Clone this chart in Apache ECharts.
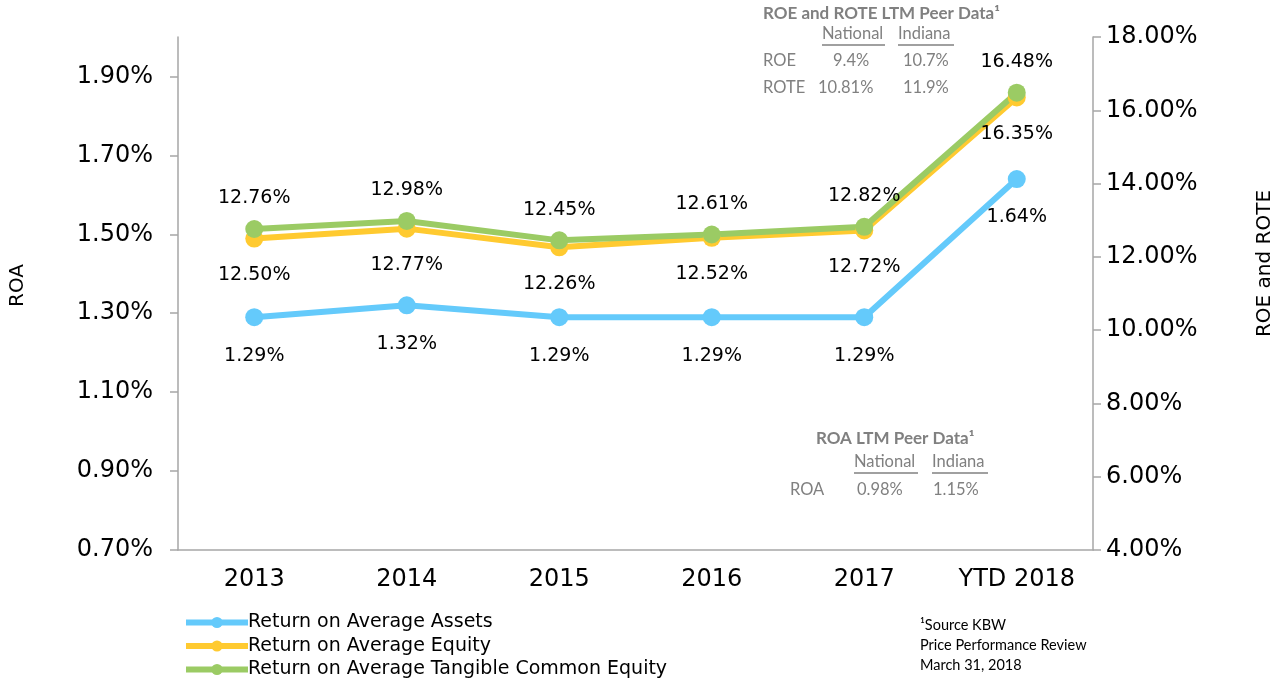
<!DOCTYPE html>
<html>
<head>
<meta charset="utf-8">
<title>ROA, ROE and ROTE</title>
<script src="https://cdn.jsdelivr.net/npm/echarts@6/dist/echarts.min.js"></script>
<style>
  html, body { margin: 0; padding: 0; background: #fff; }
  #main { width: 1284px; height: 680px; }
</style>
</head>
<body>
<div id="main"></div>
<script>
  // chart values
  var years = ['2013', '2014', '2015', '2016', '2017', 'YTD 2018'];
  var roa = [1.29, 1.32, 1.29, 1.29, 1.29, 1.64];
  var roe = [12.50, 12.77, 12.26, 12.52, 12.72, 16.35];
  var rote = [12.76, 12.98, 12.45, 12.61, 12.82, 16.48];
  var roaTicks = [0.7, 0.9, 1.1, 1.3, 1.5, 1.7, 1.9];

  // peer tables
  var peerCols = ['National', 'Indiana'];
  var peerRoe = ['9.4%', '10.7%'];
  var peerRote = ['10.81%', '11.9%'];
  var peerRoa = ['0.98%', '1.15%'];
  var sourceNote = ['\u00b9Source KBW', 'Price Performance Review', 'March 31, 2018'];

  var blue = '#64CAFB', yellow = '#FFCA30', green = '#9BCB64';
  var axisGray = '#A6A6A6', tableGray = '#808080';
  var tableFont = 'Lato, "Open Sans", sans-serif';

  var dom = document.getElementById('main');
  var myChart = echarts.init(dom);

  function pct(v) { return v.toFixed(2) + '%'; }

  function txt(x, y, s, opt) {
    opt = opt || {};
    return {
      type: 'text', left: x, top: y,
      style: {
        text: s, fill: opt.color || tableGray,
        font: (opt.bold ? 'bold ' : '') + (opt.size || 16.5) + 'px ' + (opt.family || tableFont)
      }
    };
  }
  function uline(x1, x2, y) {
    return { type: 'line', shape: { x1: x1, y1: y, x2: x2, y2: y },
      style: { stroke: tableGray, lineWidth: 1.5 } };
  }

  var graphics = [
    txt(763, 5, 'ROE and ROTE LTM Peer Data\u00b9', { bold: true, size: 17 }),
    txt(822, 25, peerCols[0]), uline(822, 885, 45),
    txt(898, 25, peerCols[1]), uline(898, 954, 45),
    txt(763, 52, 'ROE'), txt(833, 52, peerRoe[0]), txt(903, 52, peerRoe[1]),
    txt(763, 79, 'ROTE'), txt(818, 79, peerRote[0]), txt(903, 79, peerRote[1]),

    txt(816, 430, 'ROA LTM Peer Data\u00b9', { bold: true, size: 17 }),
    txt(854, 453, peerCols[0]), uline(854, 918, 473),
    txt(932, 453, peerCols[1]), uline(932, 988, 473),
    txt(790, 481, 'ROA'), txt(857, 481, peerRoa[0]), txt(933, 481, peerRoa[1])
  ];
  sourceNote.forEach(function (s, i) {
    graphics.push(txt(920, 618 + i * 20, s, { color: '#000', size: 14.5 }));
  });

  function lineSeries(name, data, color, axisIdx, labelPos, dist) {
    return {
      name: name,
      type: 'line',
      yAxisIndex: axisIdx,
      data: data,
      symbol: 'circle',
      symbolSize: 18,
      lineStyle: { width: 6, color: color },
      itemStyle: { color: color },
      label: {
        show: true, position: labelPos, distance: dist,
        color: '#000', fontSize: 19, fontFamily: 'DejaVu Sans',
        formatter: function (p) { return pct(p.value); }
      },
      animation: false
    };
  }

  var option = {
    textStyle: { fontFamily: 'DejaVu Sans' },
    grid: { left: 176, right: 191, top: 37, bottom: 130 },
    legend: {
      orient: 'vertical', left: 178, top: 607, height: 100, itemGap: 2.5,
      itemWidth: 62, itemHeight: 14,
      lineStyle: { width: 6 },
      textStyle: { fontSize: 19, lineHeight: 21, color: '#000', fontFamily: 'DejaVu Sans', padding: [0, 0, 0, -5] },
      data: ['Return on Average Assets', 'Return on Average Equity', 'Return on Average Tangible Common Equity']
    },
    xAxis: {
      type: 'category',
      data: years,
      boundaryGap: true,
      axisLine: { lineStyle: { color: axisGray, width: 1.5 } },
      axisTick: { length: 8, lineStyle: { color: axisGray, width: 1.5 } },
      axisLabel: { color: '#000', fontSize: 24, margin: 18 }
    },
    yAxis: [{
      type: 'value',
      min: 0.7, max: 2.0,
      name: 'ROA', nameLocation: 'middle', nameGap: 150,
      nameTextStyle: { fontSize: 20, color: '#000', padding: [0, 0, 0, 16] },
      splitLine: { show: false },
      axisLine: { show: true, lineStyle: { color: axisGray, width: 1.5 } },
      axisTick: { show: true, length: 8, customValues: roaTicks, lineStyle: { color: axisGray, width: 1.5 } },
      axisLabel: { color: '#000', fontSize: 24, margin: 25, customValues: roaTicks, formatter: pct }
    }, {
      type: 'value',
      min: 4, max: 18, interval: 2,
      name: 'ROE and ROTE', nameLocation: 'middle', nameGap: 162,
      nameTextStyle: { fontSize: 20, color: '#000', padding: [0, 0, 0, 60] },
      splitLine: { show: false },
      axisLine: { show: true, lineStyle: { color: axisGray, width: 1.5 } },
      axisTick: { show: true, length: 8, lineStyle: { color: axisGray, width: 1.5 } },
      axisLabel: { color: '#000', fontSize: 24, margin: 13, formatter: pct }
    }],
    series: [
      lineSeries('Return on Average Assets', roa, blue, 0, 'bottom', 20),
      lineSeries('Return on Average Equity', roe, yellow, 1, 'bottom', 18),
      lineSeries('Return on Average Tangible Common Equity', rote, green, 1, 'top', 12)
    ],
    graphic: graphics
  };

  if (option && typeof option === 'object') {
    myChart.setOption(option, true);
  }
</script>
</body>
</html>
